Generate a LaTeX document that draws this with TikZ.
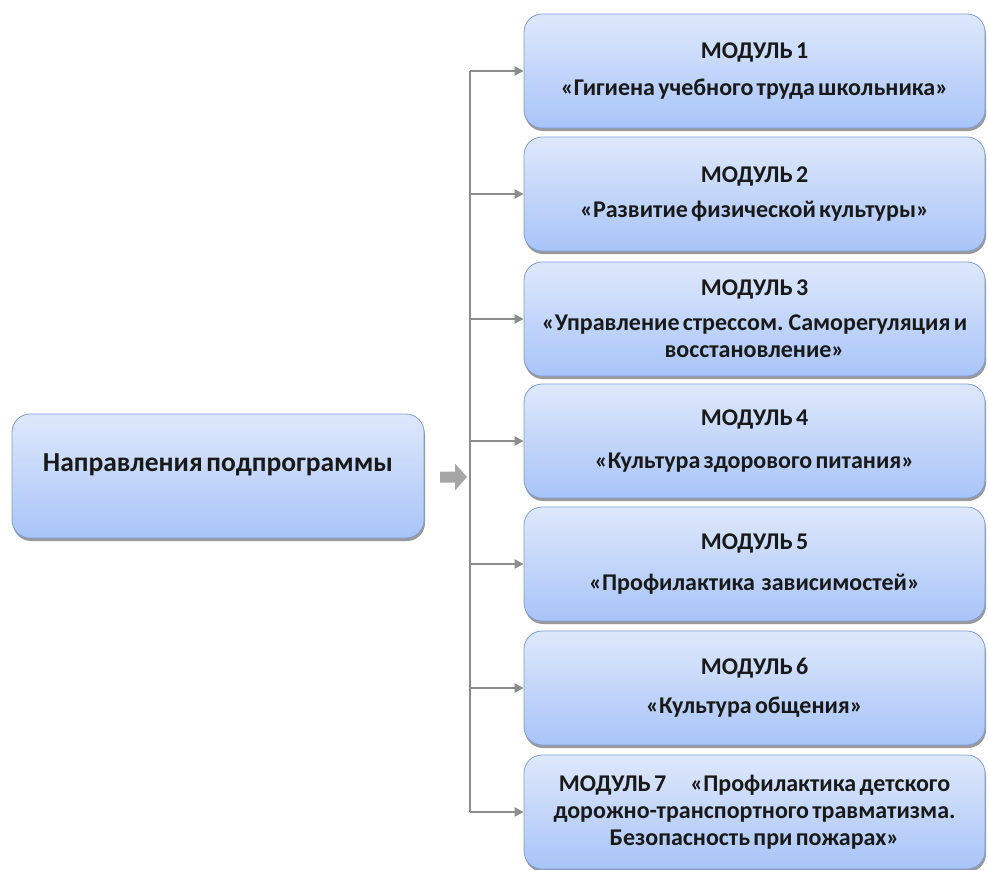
\documentclass[tikz,border=0pt]{standalone}
\usepackage{fontspec}
\setmainfont[WordSpace=0.6]{Carlito}
\usetikzlibrary{shadows,arrows.meta}
\definecolor{boxtop}{HTML}{DEE8FB}
\definecolor{boxbot}{HTML}{A8C4F8}
\definecolor{boxline}{HTML}{7F9DD6}
\definecolor{conn}{HTML}{8C8C8C}
\definecolor{fatarrow}{HTML}{A6A6A6}
\tikzset{
  modbox/.style={draw=boxline, line width=0.8pt, rounded corners=18pt,
    top color=boxtop, bottom color=boxbot,
    minimum width=461pt, minimum height=114pt, inner sep=0pt,
    align=center, font=\fontsize{24}{27}\selectfont\bfseries, text=black!90,
    drop shadow={shadow xshift=1pt, shadow yshift=-3pt, fill=black, opacity=0.4}},
  mainbox/.style={modbox, minimum width=412pt, minimum height=124pt},
  maintext/.style={font=\fontsize{27.5}{32}\selectfont\bfseries, text=black!90},
  branch/.style={draw=conn, line width=2.4pt, -{Triangle[length=9pt,width=9pt]}},
  trunk/.style={draw=conn, line width=2.4pt}
}
\begin{document}
\begin{tikzpicture}[x=1pt,y=-1pt]
\useasboundingbox (0,0) rectangle (988,870);
\node[mainbox] (main) at (218,476) {};
\node[maintext] (maint) at (218,465) {Направления подпрограммы};
\node[modbox] (m1) at (754.5,71) {МОДУЛЬ 1\\[10pt]«Гигиена учебного труда школьника»};
\node[modbox] (m2) at (754.5,194) {МОДУЛЬ 2\\[8pt]«Развитие физической культуры»};
\node[modbox] (m3) at (754.5,319) {МОДУЛЬ 3\\[8pt]«Управление стрессом. Саморегуляция и\\восстановление»};
\node[modbox] (m4) at (754.5,441) {МОДУЛЬ 4\\[16pt]«Культура здорового питания»};
\node[modbox] (m5) at (754.5,564) {МОДУЛЬ 5\\[14pt]«Профилактика\ \ зависимостей»};
\node[modbox] (m6) at (754.5,688) {МОДУЛЬ 6\\[12pt]«Культура общения»};
\node[modbox] (m7) at (754.5,812) {МОДУЛЬ 7\quad«Профилактика детского\\дорожно-транспортного травматизма.\\Безопасность при пожарах»};
\coordinate (tx) at (470,0);
\draw[trunk] (tx |- m1.west) -- (tx |- m7.west);
\foreach \m in {m1,m2,m3,m4,m5,m6,m7}{
  \draw[branch] (tx |- \m.west) -- (\m.west);
}
\coordinate (fa) at (440,477);
\fill[fatarrow] (fa) ++(0,-5.5) -- ++(15,0) -- ++(0,-8) -- ++(12,13.5) -- ++(-12,13.5) -- ++(0,-8) -- ++(-15,0) -- cycle;
\end{tikzpicture}
\end{document}
